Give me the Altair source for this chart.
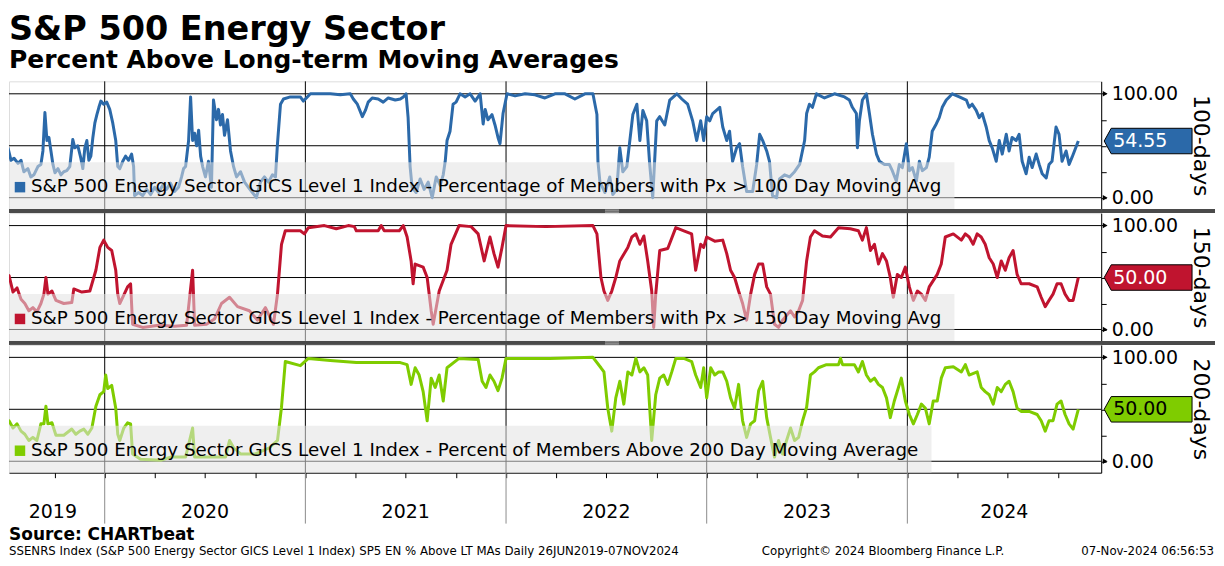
import altair as alt
import pandas as pd

FONT = "DejaVu Sans"
DATA_START = 2019.483          # 26-Jun-2019
X0, X1 = 2019.523, 2024.966    # visible x domain (decimal years)

# ---------------- data (decimal year, percent) ----------------
pct100 = [
    (2019.483, 40), (2019.498, 38), (2019.518, 48), (2019.533, 36), (2019.548, 38), (2019.568, 33),
    (2019.583, 36), (2019.597, 25), (2019.617, 28), (2019.632, 20), (2019.647, 22), (2019.667, 30),
    (2019.682, 32), (2019.692, 45), (2019.702, 82), (2019.712, 55), (2019.722, 58), (2019.732, 45),
    (2019.742, 32), (2019.752, 24), (2019.767, 28), (2019.782, 22), (2019.796, 25), (2019.811, 26),
    (2019.826, 30), (2019.841, 56), (2019.851, 48), (2019.866, 50), (2019.881, 38), (2019.891, 28),
    (2019.901, 48), (2019.911, 55), (2019.921, 36), (2019.931, 40), (2019.941, 58), (2019.951, 72),
    (2019.961, 80), (2019.971, 87), (2019.981, 93), (2019.995, 90), (2020.010, 92), (2020.025, 85),
    (2020.040, 72), (2020.055, 55), (2020.065, 30), (2020.075, 28), (2020.090, 35), (2020.104, 40),
    (2020.119, 36), (2020.134, 42), (2020.144, 30), (2020.149, 2), (2020.169, 5), (2020.189, 2),
    (2020.209, 8), (2020.229, 3), (2020.249, 10), (2020.269, 5), (2020.289, 12), (2020.308, 8),
    (2020.328, 14), (2020.348, 6), (2020.368, 10), (2020.383, 20), (2020.393, 28), (2020.403, 30),
    (2020.418, 55), (2020.428, 97), (2020.438, 55), (2020.448, 62), (2020.458, 50), (2020.468, 65),
    (2020.478, 40), (2020.488, 30), (2020.502, 20), (2020.517, 35), (2020.532, 10), (2020.542, 94),
    (2020.557, 75), (2020.567, 85), (2020.577, 70), (2020.587, 80), (2020.597, 60), (2020.612, 75),
    (2020.627, 45), (2020.642, 30), (2020.657, 20), (2020.677, 25), (2020.697, 15), (2020.716, 10),
    (2020.736, 5), (2020.756, 0), (2020.776, 15), (2020.796, 20), (2020.816, 15), (2020.836, 22),
    (2020.851, 20), (2020.861, 52), (2020.876, 90), (2020.891, 95), (2020.925, 97), (2020.975, 97),
    (2020.990, 93), (2021.005, 96), (2021.025, 100), (2021.075, 100), (2021.124, 100), (2021.174, 99),
    (2021.224, 100), (2021.239, 95), (2021.259, 90), (2021.284, 78), (2021.299, 84), (2021.313, 92),
    (2021.333, 96), (2021.363, 95), (2021.388, 92), (2021.413, 96), (2021.448, 94), (2021.473, 95),
    (2021.488, 97), (2021.502, 100), (2021.512, 77), (2021.522, 30), (2021.532, 10), (2021.552, 5),
    (2021.572, 18), (2021.592, 8), (2021.612, 15), (2021.632, 0), (2021.652, 20), (2021.672, 12),
    (2021.687, 22), (2021.697, 35), (2021.706, 55), (2021.721, 64), (2021.736, 90), (2021.751, 92),
    (2021.771, 100), (2021.796, 97), (2021.821, 100), (2021.846, 93), (2021.871, 100), (2021.886, 71),
    (2021.896, 85), (2021.910, 75), (2021.930, 80), (2021.945, 70), (2021.960, 58), (2021.970, 52),
    (2021.985, 81), (2022.005, 100), (2022.045, 98), (2022.095, 100), (2022.144, 99), (2022.194, 96),
    (2022.244, 100), (2022.294, 100), (2022.343, 95), (2022.393, 100), (2022.433, 100), (2022.453, 80),
    (2022.458, 35), (2022.468, 15), (2022.493, 5), (2022.517, 20), (2022.532, 3), (2022.552, 8),
    (2022.567, 48), (2022.582, 25), (2022.602, 30), (2022.632, 80), (2022.652, 90), (2022.667, 55),
    (2022.682, 84), (2022.701, 74), (2022.716, 32), (2022.731, 0), (2022.751, 74), (2022.766, 78),
    (2022.791, 70), (2022.816, 94), (2022.851, 100), (2022.876, 95), (2022.905, 90), (2022.930, 74),
    (2022.950, 55), (2022.970, 74), (2022.985, 55), (2023.000, 78), (2023.015, 74), (2023.030, 81),
    (2023.065, 87), (2023.080, 68), (2023.100, 55), (2023.114, 64), (2023.129, 35), (2023.149, 48),
    (2023.164, 52), (2023.179, 30), (2023.199, 6), (2023.229, 6), (2023.249, 32), (2023.264, 61),
    (2023.279, 55), (2023.299, 45), (2023.313, 35), (2023.328, 2), (2023.348, 0), (2023.363, 18),
    (2023.388, 22), (2023.413, 20), (2023.438, 25), (2023.463, 32), (2023.488, 55), (2023.498, 81),
    (2023.512, 90), (2023.527, 87), (2023.547, 100), (2023.587, 96), (2023.637, 100), (2023.687, 97),
    (2023.711, 94), (2023.726, 87), (2023.746, 81), (2023.751, 48), (2023.761, 74), (2023.776, 94),
    (2023.796, 100), (2023.811, 81), (2023.826, 61), (2023.846, 42), (2023.861, 35), (2023.886, 32),
    (2023.910, 32), (2023.925, 26), (2023.945, 16), (2023.960, 32), (2023.975, 29), (2023.995, 52),
    (2024.010, 26), (2024.025, 29), (2024.045, 16), (2024.060, 35), (2024.075, 26), (2024.095, 29),
    (2024.109, 39), (2024.124, 64), (2024.144, 71), (2024.159, 77), (2024.174, 87), (2024.194, 94),
    (2024.209, 97), (2024.224, 100), (2024.259, 97), (2024.294, 94), (2024.308, 87), (2024.323, 90),
    (2024.343, 84), (2024.358, 77), (2024.373, 81), (2024.393, 68), (2024.408, 55), (2024.423, 48),
    (2024.443, 35), (2024.458, 55), (2024.473, 42), (2024.493, 61), (2024.507, 45), (2024.522, 58),
    (2024.542, 55), (2024.557, 61), (2024.572, 35), (2024.592, 23), (2024.607, 39), (2024.622, 29),
    (2024.642, 42), (2024.657, 32), (2024.672, 23), (2024.692, 19), (2024.706, 32), (2024.721, 35),
    (2024.741, 68), (2024.756, 61), (2024.771, 35), (2024.791, 45), (2024.806, 32), (2024.821, 39),
    (2024.852, 54.55),
]

pct150 = [
    (2019.483, 49), (2019.503, 45), (2019.523, 52), (2019.543, 36), (2019.563, 40), (2019.583, 29),
    (2019.602, 25), (2019.622, 18), (2019.642, 21), (2019.662, 17), (2019.682, 25), (2019.697, 34),
    (2019.707, 50), (2019.717, 34), (2019.737, 37), (2019.757, 28), (2019.796, 25), (2019.836, 26),
    (2019.846, 39), (2019.886, 36), (2019.926, 37), (2019.956, 57), (2019.976, 79), (2019.995, 86),
    (2020.015, 79), (2020.035, 76), (2020.055, 57), (2020.065, 34), (2020.075, 25), (2020.095, 33),
    (2020.114, 41), (2020.129, 44), (2020.139, 5), (2020.189, 2), (2020.269, 4), (2020.348, 3),
    (2020.408, 4), (2020.438, 57), (2020.448, 4), (2020.507, 5), (2020.547, 10), (2020.582, 25),
    (2020.622, 31), (2020.662, 22), (2020.721, 18), (2020.761, 9), (2020.801, 21), (2020.841, 5),
    (2020.861, 34), (2020.881, 82), (2020.900, 95), (2020.975, 95), (2020.995, 92), (2021.015, 98),
    (2021.095, 100), (2021.154, 97), (2021.214, 100), (2021.244, 99), (2021.254, 95), (2021.363, 95),
    (2021.378, 100), (2021.393, 95), (2021.468, 95), (2021.488, 100), (2021.507, 89), (2021.527, 66),
    (2021.537, 44), (2021.547, 63), (2021.587, 60), (2021.607, 50), (2021.627, 18), (2021.637, 5),
    (2021.667, 37), (2021.706, 57), (2021.726, 82), (2021.766, 100), (2021.826, 99), (2021.861, 92),
    (2021.891, 66), (2021.920, 89), (2021.940, 73), (2021.960, 60), (2021.980, 79), (2022.000, 100),
    (2022.199, 99), (2022.433, 100), (2022.453, 92), (2022.473, 50), (2022.488, 37), (2022.507, 28),
    (2022.527, 37), (2022.547, 50), (2022.567, 66), (2022.607, 79), (2022.627, 89), (2022.647, 92),
    (2022.667, 82), (2022.687, 90), (2022.706, 66), (2022.726, 37), (2022.736, 2), (2022.746, 34),
    (2022.766, 76), (2022.806, 78), (2022.846, 98), (2022.886, 95), (2022.925, 92), (2022.945, 57),
    (2022.970, 82), (2022.985, 79), (2023.000, 89), (2023.040, 85), (2023.080, 86), (2023.100, 73),
    (2023.119, 57), (2023.139, 50), (2023.159, 37), (2023.179, 25), (2023.199, 9), (2023.219, 34),
    (2023.239, 53), (2023.259, 63), (2023.279, 63), (2023.299, 41), (2023.318, 34), (2023.338, 5),
    (2023.358, 2), (2023.378, 9), (2023.418, 18), (2023.438, 12), (2023.458, 18), (2023.478, 28),
    (2023.498, 66), (2023.517, 89), (2023.537, 95), (2023.577, 90), (2023.617, 89), (2023.657, 98),
    (2023.716, 97), (2023.756, 95), (2023.776, 86), (2023.796, 98), (2023.816, 76), (2023.836, 82),
    (2023.856, 63), (2023.876, 73), (2023.896, 66), (2023.915, 50), (2023.930, 31), (2023.950, 53),
    (2023.970, 50), (2023.990, 60), (2024.010, 41), (2024.030, 28), (2024.050, 37), (2024.070, 34),
    (2024.090, 28), (2024.109, 41), (2024.129, 47), (2024.149, 53), (2024.169, 63), (2024.189, 89),
    (2024.229, 92), (2024.269, 86), (2024.289, 92), (2024.308, 89), (2024.328, 82), (2024.348, 92),
    (2024.368, 89), (2024.388, 82), (2024.408, 69), (2024.428, 63), (2024.448, 50), (2024.468, 66),
    (2024.488, 57), (2024.507, 69), (2024.527, 76), (2024.547, 53), (2024.567, 44), (2024.607, 44),
    (2024.647, 41), (2024.667, 31), (2024.687, 22), (2024.706, 28), (2024.726, 34), (2024.746, 44),
    (2024.766, 44), (2024.786, 34), (2024.806, 28), (2024.826, 28), (2024.852, 50),
]

pct200 = [
    (2019.483, 39), (2019.503, 41), (2019.523, 39), (2019.543, 32), (2019.563, 36), (2019.583, 29),
    (2019.602, 26), (2019.622, 20), (2019.642, 23), (2019.662, 20), (2019.682, 36), (2019.697, 36),
    (2019.707, 53), (2019.717, 36), (2019.737, 37), (2019.757, 25), (2019.796, 25), (2019.836, 31),
    (2019.856, 26), (2019.876, 29), (2019.896, 31), (2019.916, 26), (2019.936, 32), (2019.956, 53),
    (2019.976, 64), (2019.995, 67), (2020.005, 83), (2020.015, 70), (2020.035, 73), (2020.055, 51),
    (2020.065, 26), (2020.075, 20), (2020.095, 32), (2020.114, 37), (2020.129, 36), (2020.139, 7),
    (2020.179, 2), (2020.279, 1), (2020.328, 4), (2020.403, 4), (2020.438, 32), (2020.448, 4),
    (2020.527, 4), (2020.602, 4), (2020.622, 20), (2020.642, 13), (2020.677, 7), (2020.751, 7),
    (2020.821, 13), (2020.861, 20), (2020.881, 52), (2020.900, 96), (2020.975, 92), (2021.015, 99),
    (2021.124, 97), (2021.254, 95), (2021.473, 95), (2021.507, 93), (2021.527, 74), (2021.547, 90),
    (2021.567, 83), (2021.587, 67), (2021.607, 39), (2021.627, 80), (2021.647, 71), (2021.667, 83),
    (2021.687, 58), (2021.706, 90), (2021.766, 99), (2021.861, 98), (2021.881, 77), (2021.900, 71),
    (2021.920, 83), (2021.940, 77), (2021.960, 68), (2021.980, 80), (2022.000, 99), (2022.219, 99),
    (2022.433, 100), (2022.473, 90), (2022.488, 86), (2022.507, 51), (2022.527, 29), (2022.547, 61),
    (2022.567, 77), (2022.587, 55), (2022.607, 86), (2022.627, 83), (2022.647, 99), (2022.667, 86),
    (2022.687, 90), (2022.706, 83), (2022.726, 20), (2022.746, 64), (2022.766, 80), (2022.786, 83),
    (2022.806, 74), (2022.826, 86), (2022.846, 99), (2022.886, 99), (2022.925, 96), (2022.945, 83),
    (2022.970, 71), (2022.985, 90), (2023.000, 61), (2023.020, 90), (2023.040, 83), (2023.060, 86),
    (2023.080, 86), (2023.100, 77), (2023.119, 61), (2023.139, 51), (2023.159, 74), (2023.179, 39),
    (2023.199, 23), (2023.219, 36), (2023.239, 39), (2023.259, 68), (2023.279, 77), (2023.299, 42),
    (2023.318, 23), (2023.338, 4), (2023.358, 20), (2023.378, 7), (2023.398, 20), (2023.418, 32),
    (2023.438, 20), (2023.458, 23), (2023.478, 39), (2023.498, 52), (2023.517, 83), (2023.537, 86),
    (2023.557, 90), (2023.597, 93), (2023.657, 93), (2023.667, 99), (2023.677, 93), (2023.736, 93),
    (2023.756, 86), (2023.776, 96), (2023.796, 83), (2023.816, 77), (2023.836, 80), (2023.856, 74),
    (2023.876, 71), (2023.896, 61), (2023.915, 42), (2023.935, 58), (2023.970, 80), (2023.990, 58),
    (2024.010, 45), (2024.030, 36), (2024.050, 45), (2024.070, 55), (2024.090, 51), (2024.109, 36),
    (2024.129, 58), (2024.149, 58), (2024.169, 80), (2024.189, 90), (2024.229, 91), (2024.269, 86),
    (2024.289, 93), (2024.308, 83), (2024.348, 86), (2024.368, 71), (2024.388, 67), (2024.408, 64),
    (2024.428, 55), (2024.448, 71), (2024.468, 67), (2024.488, 74), (2024.507, 77), (2024.527, 67),
    (2024.547, 51), (2024.567, 48), (2024.607, 48), (2024.647, 45), (2024.667, 39), (2024.687, 29),
    (2024.706, 39), (2024.726, 39), (2024.746, 55), (2024.766, 58), (2024.786, 45), (2024.806, 36),
    (2024.826, 31), (2024.852, 50),
]

last_labels = ["54.55", "50.00", "50.00"]
series_colors = ["#2b69a9", "#c0142f", "#7fcc00"]
tag_text_colors = ["white", "white", "black"]
axis_titles = ["100-days", "150-days", "200-days"]
legend_texts = [
    "S&P 500 Energy Sector GICS Level 1 Index - Percentage of Members with Px > 100 Day Moving Avg",
    "S&P 500 Energy Sector GICS Level 1 Index - Percentage of Members with Px > 150 Day Moving Avg",
    "S&P 500 Energy Sector GICS Level 1 Index - Percent of Members Above 200 Day Moving Average",
]
legend_box_right = [947, 947, 924]
year_lines = [2020, 2021, 2022, 2023, 2024]
year_names = ["2019", "2020", "2021", "2022", "2023", "2024"]
quarter_ticks = [2019.5, 2019.75, 2020.0, 2020.25, 2020.5, 2020.75, 2021.0, 2021.25, 2021.5,
                 2021.75, 2022.0, 2022.25, 2022.5, 2022.75, 2023.0, 2023.25, 2023.5, 2023.75,
                 2024.0, 2024.25, 2024.5, 2024.75]

# ---------------- layout ----------------
W, H = 1094, 128
RIGHT = 1208   # right edge of the whole chart (plot coords)
ONE = pd.DataFrame({"d": [0]})
TAG_PATH = "M-1,0L-0.84,-0.29L1,-0.29L1,0.29L-0.84,0.29Z"


def panel(pts, color, tcolor, legend_text, ytitle, box_right, label, first=False, last=False):
    df = pd.DataFrame(pts, columns=["t", "v"])
    xs = alt.Scale(domain=[X0, X1], nice=False, zero=False)
    ys = alt.Scale(domain=[-11, 112], nice=False, zero=False)
    if last:
        xaxis = alt.Axis(values=quarter_ticks, labels=False, ticks=True, tickSize=5,
                         tickColor="black", domainColor="black", domainWidth=1,
                         grid=False, title=None)
    else:
        xaxis = None
    yaxis = alt.Axis(orient="right", values=[0, 25, 50, 75, 100],
                     labelExpr="datum.value == 0 || datum.value == 100 ? format(datum.value, '.2f') : ''",
                     labelFont=FONT, labelFontSize=19, labelColor="black", labelPadding=5,
                     labelOverlap=False, tickSize=5, tickColor="black", domainColor="black",
                     grid=False, title=ytitle, titleFont=FONT, titleFontSize=22,
                     titleFontWeight="normal", titleColor="black", titleAngle=90,
                     titleAlign="center", titleBaseline="middle", titleX=99, titleY=H / 2)
    X = alt.X("t:Q", scale=xs, axis=xaxis)
    Y = alt.Y("v:Q", scale=ys, axis=yaxis)

    hgrid = alt.Chart(pd.DataFrame({"v": [0, 50, 100]})).mark_rule(
        color="black", strokeWidth=1).encode(y=Y)
    vgrid = alt.Chart(pd.DataFrame({"t": year_lines})).mark_rule(
        color="black", strokeWidth=1).encode(x=X)
    line = alt.Chart(df).mark_line(color=color, strokeWidth=3, clip=True,
                                   strokeJoin="round").encode(x=X, y=Y)
    box = alt.Chart(ONE).mark_rect(fill="#e2e2e2", opacity=0.55).encode(
        x=alt.value(0), x2=alt.value(box_right), y=alt.value(81), y2=alt.value(H))
    sq = alt.Chart(ONE).mark_square(size=110, color=color, opacity=1, filled=True).encode(
        x=alt.value(11), y=alt.value(106))
    ltxt = alt.Chart(ONE).mark_text(text=legend_text, font=FONT, fontSize=18.3, align="left",
                                    baseline="middle", color="black").encode(
        x=alt.value(22), y=alt.value(106))
    lastdf = pd.DataFrame({"v": [pts[-1][1]], "label": [label]})
    tag = alt.Chart(lastdf).mark_point(shape=TAG_PATH, size=7744, filled=True, fill=color,
                                       fillOpacity=1, stroke="black", strokeWidth=1,
                                       opacity=1).encode(x=alt.value(1141), y=Y)
    tagtxt = alt.Chart(lastdf).mark_text(font=FONT, fontSize=19, align="left",
                                         baseline="middle", color=tcolor).encode(
        x=alt.value(1106), y=Y, text="label:N")
    arrows = alt.Chart(pd.DataFrame({"v": [0, 100]})).mark_point(
        shape="triangle-right", filled=True, size=30, color="black", opacity=1).encode(
        x=alt.value(1098), y=Y)

    layers = [hgrid, vgrid, line, box, sq, ltxt, tag, tagtxt, arrows]

    if not last:
        sep = alt.Chart(ONE).mark_rect(color="#4a4a4a").encode(
            x=alt.value(0), x2=alt.value(RIGHT), y=alt.value(H), y2=alt.value(H + 4))
        grip1 = alt.Chart(ONE).mark_rule(color="#b0b0b0", strokeWidth=1).encode(
            x=alt.value(597), x2=alt.value(611), y=alt.value(H + 1), y2=alt.value(H + 1))
        grip2 = alt.Chart(ONE).mark_rule(color="#b0b0b0", strokeWidth=1).encode(
            x=alt.value(597), x2=alt.value(611), y=alt.value(H + 3), y2=alt.value(H + 3))
        layers += [sep, grip1, grip2]

    if first:
        anchor = alt.Chart(ONE).mark_rule(color="white", strokeWidth=1).encode(
            x=alt.value(0), x2=alt.value(4), y=alt.value(-71.5), y2=alt.value(-71.5))
        t1 = alt.Chart(ONE).mark_text(text="S&P 500 Energy Sector", font=FONT, fontSize=33.5,
                                      fontWeight="bold", align="left", baseline="alphabetic",
                                      color="black").encode(x=alt.value(0), y=alt.value(-41))
        t2 = alt.Chart(ONE).mark_text(text="Percent Above Long-term Moving Averages", font=FONT,
                                      fontSize=25, fontWeight="bold", align="left",
                                      baseline="alphabetic", color="black").encode(
            x=alt.value(0), y=alt.value(-13))
        layers += [anchor, t1, t2]

    if last:
        mids = [(max(y, DATA_START) + min(y + 1, X1)) / 2 for y in range(2019, 2025)]
        yl = alt.Chart(pd.DataFrame({"t": mids, "label": year_names})).mark_text(
            font=FONT, fontSize=19, baseline="middle", align="center", color="black").encode(
            x=X, y=alt.value(167), text="label:N")
        ylines = alt.Chart(pd.DataFrame({"t": year_lines})).mark_rule(
            color="#8c8c8c", strokeWidth=1).encode(x=X, y=alt.value(H), y2=alt.value(H + 51))
        src = alt.Chart(ONE).mark_text(text="Source: CHARTbeat", font=FONT, fontSize=17,
                                       fontWeight="bold", align="left", baseline="middle",
                                       color="black").encode(x=alt.value(0), y=alt.value(190))
        f1 = alt.Chart(ONE).mark_text(
            text="SSENRS Index (S&P 500 Energy Sector GICS Level 1 Index) SP5 EN % Above LT MAs  Daily 26JUN2019-07NOV2024",
            font=FONT, fontSize=11.8, align="left", baseline="middle", color="black").encode(
            x=alt.value(0), y=alt.value(206))
        f2 = alt.Chart(ONE).mark_text(text="Copyright\u00a9 2024 Bloomberg Finance L.P.", font=FONT,
                                      fontSize=11.8, align="left", baseline="middle",
                                      color="black").encode(x=alt.value(754), y=alt.value(206))
        f3 = alt.Chart(ONE).mark_text(text="07-Nov-2024 06:56:53", font=FONT, fontSize=11.8,
                                      align="right", baseline="middle", color="black").encode(
            x=alt.value(RIGHT - 1), y=alt.value(206))
        layers += [ylines, yl, src, f1, f2, f3]

    return alt.layer(*layers).properties(width=W, height=H)


panels = []
for i, pts in enumerate([pct100, pct150, pct200]):
    panels.append(panel(pts, series_colors[i], tag_text_colors[i], legend_texts[i],
                        axis_titles[i], legend_box_right[i], last_labels[i],
                        first=(i == 0), last=(i == 2)))

chart = alt.vconcat(*panels, spacing=4, bounds="flush", padding=0).configure_view(
    stroke=None).configure(font=FONT, background="white")

chart.save("out.html", embed_options={"renderer": "svg", "actions": False})
